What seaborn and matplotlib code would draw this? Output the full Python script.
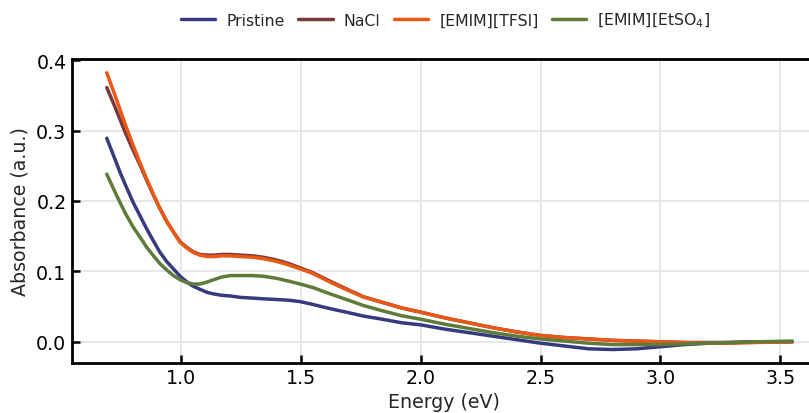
import numpy as np
import pandas as pd
import matplotlib
matplotlib.use("Agg")
import matplotlib.pyplot as plt
import seaborn as sns

energy = [0.69, 0.72, 0.745, 0.77, 0.80, 0.83, 0.857, 0.885, 0.912, 0.94, 0.968, 0.996,
          1.024, 1.05, 1.079, 1.11, 1.135, 1.17, 1.205, 1.25, 1.30, 1.344, 1.40, 1.45,
          1.497, 1.55, 1.622, 1.69, 1.761, 1.84, 1.92, 2.00, 2.10, 2.20, 2.30, 2.40,
          2.50, 2.60, 2.70, 2.80, 2.90, 3.00, 3.10, 3.20, 3.30, 3.40, 3.55]

pristine = [0.289, 0.263, 0.241, 0.221, 0.198, 0.178, 0.160, 0.143, 0.127, 0.114, 0.1035, 0.093,
            0.085, 0.079, 0.0745, 0.070, 0.068, 0.066, 0.065, 0.063, 0.062, 0.061, 0.060, 0.059,
            0.057, 0.053, 0.047, 0.042, 0.0365, 0.032, 0.027, 0.024, 0.018, 0.013, 0.008, 0.003,
            -0.002, -0.006, -0.010, -0.011, -0.010, -0.007, -0.004, -0.002, -0.001, 0.000, 0.000]
nacl = [0.361, 0.337, 0.316, 0.295, 0.272, 0.250, 0.229, 0.208, 0.189, 0.171, 0.156, 0.142,
        0.134, 0.128, 0.124, 0.123, 0.123, 0.124, 0.124, 0.123, 0.122, 0.120, 0.116, 0.111,
        0.105, 0.098, 0.086, 0.075, 0.064, 0.056, 0.048, 0.042, 0.034, 0.027, 0.020, 0.014,
        0.009, 0.006, 0.004, 0.002, 0.001, 0.000, -0.001, -0.001, -0.001, 0.000, 0.000]
tfsi = [0.382, 0.354, 0.330, 0.306, 0.279, 0.253, 0.231, 0.209, 0.189, 0.171, 0.156, 0.141,
        0.133, 0.127, 0.123, 0.121, 0.121, 0.122, 0.122, 0.121, 0.120, 0.118, 0.114, 0.109,
        0.1035, 0.097, 0.0846, 0.074, 0.0634, 0.056, 0.048, 0.042, 0.034, 0.027, 0.020, 0.014,
        0.009, 0.006, 0.004, 0.002, 0.001, 0.000, -0.001, -0.002, -0.002, -0.001, 0.000]
etso4 = [0.238, 0.216, 0.198, 0.181, 0.163, 0.148, 0.134, 0.122, 0.111, 0.102, 0.094, 0.088,
         0.084, 0.082, 0.082, 0.085, 0.088, 0.092, 0.094, 0.094, 0.094, 0.093, 0.090, 0.086,
         0.082, 0.077, 0.068, 0.060, 0.0515, 0.044, 0.037, 0.032, 0.025, 0.019, 0.013, 0.008,
         0.004, 0.001, -0.002, -0.004, -0.004, -0.004, -0.003, -0.002, -0.001, 0.000, 0.001]

labels = ["Pristine", "NaCl", "[EMIM][TFSI]", "[EMIM][EtSO$_4$]"]
colors = ["#363b7e", "#7a3a3a", "#ea5816", "#5e7b3a"]

frames = []
for lab, ys in zip(labels, [pristine, nacl, tfsi, etso4]):
    frames.append(pd.DataFrame({"Energy": energy, "Absorbance": ys, "Sample": lab}))
df = pd.concat(frames, ignore_index=True)

sns.set_style("ticks")
plt.rcParams['font.family'] = 'sans-serif'
plt.rcParams['font.sans-serif'] = ['DejaVu Sans']

fig = plt.figure(figsize=(8.09, 4.14), dpi=100)
ax = fig.add_axes([0.089, 0.121, 0.92, 0.734])

sns.lineplot(data=df, x="Energy", y="Absorbance", hue="Sample", hue_order=labels,
             palette=colors, estimator=None, sort=False, linewidth=2.5, ax=ax)

ax.set_xlim(0.545, 3.65)
ax.set_ylim(-0.03, 0.4015)
ax.set_xticks([1.0, 1.5, 2.0, 2.5, 3.0, 3.5])
ax.set_yticks([0.0, 0.1, 0.2, 0.3, 0.4])
ax.grid(True, color="#e8e8e8", linewidth=1.4)
ax.set_axisbelow(True)
for s in ["left", "bottom", "top"]:
    ax.spines[s].set_linewidth(2.0)
    ax.spines[s].set_color("black")
ax.spines["right"].set_visible(False)
ax.tick_params(direction="in", length=6, width=1.8, labelsize=13.7, pad=4, colors="black")
ax.set_xlabel("Energy (eV)", fontsize=13.7, labelpad=3)
ax.set_ylabel("Absorbance (a.u.)", fontsize=13.7, labelpad=5)

handles, labs = ax.get_legend_handles_labels()
ax.get_legend().remove()
fig.legend(handles, labs, loc="upper center", bbox_to_anchor=(0.551, 1.005), ncol=4,
           frameon=False, fontsize=11.3, handlelength=2.2, columnspacing=0.85,
           handletextpad=0.7)

fig.savefig("out.png", dpi=100)
